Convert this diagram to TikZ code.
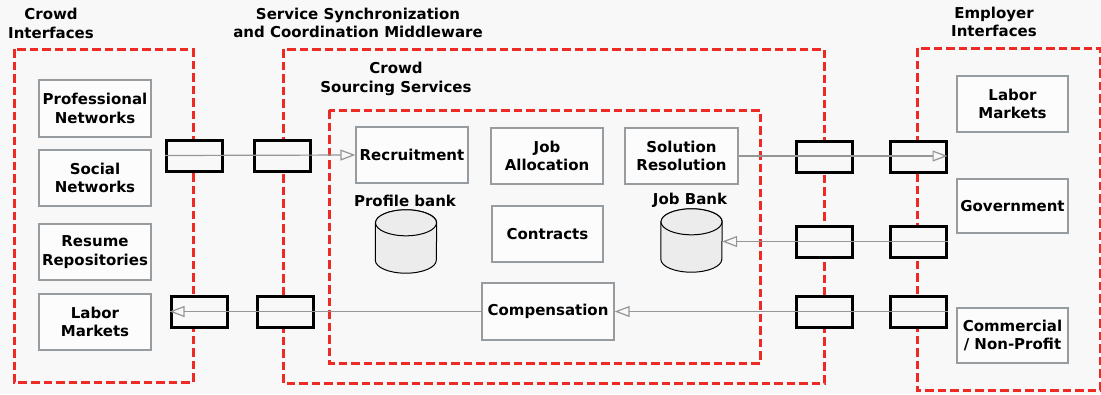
\documentclass[tikz,border=0pt]{standalone}
\usepackage{fontspec}
\setmainfont{DejaVu Sans}
\usetikzlibrary{arrows.meta}
\definecolor{bgcol}{RGB}{248,248,248}
\definecolor{zonered}{RGB}{238,42,36}
\definecolor{boxline}{RGB}{150,156,160}
\definecolor{wire}{RGB}{150,150,150}
\definecolor{dbfill}{RGB}{236,236,236}
\tikzset{
  lbl/.style={font=\bfseries\fontsize{15}{18.5}\selectfont, align=center, inner sep=0pt},
  zone/.style={draw=zonered, line width=3pt, dash pattern=on 8.5pt off 4pt},
  svc/.style={lbl, draw=boxline, line width=1.3pt, fill=white!60!bgcol, minimum height=56pt},
  port/.style={draw=black, line width=3pt, fill=bgcol, minimum width=56pt, minimum height=31pt, inner sep=0pt},
  flow/.style={draw=wire, line width=1.2pt, -{Triangle[open, length=15pt, width=11pt, line width=1.2pt]}},
  dbbody/.style={draw=black, line width=1pt, fill=dbfill},
}
% database drum: #1 name, #2 centre x, #3 centre y
\newcommand\drum[3]{%
  \node[minimum width=61pt, minimum height=63pt, inner sep=0pt] (#1) at (#2,#3) {};
  \path[dbbody] ([yshift=-13pt]#1.north west) -- ([yshift=13pt]#1.south west)
    arc[start angle=180, end angle=0, x radius=30.5, y radius=13]
    -- ([yshift=-13pt]#1.north east)
    arc[start angle=0, end angle=-180, x radius=30.5, y radius=13] -- cycle;
  \path[dbbody] ([yshift=-13pt]#1.north) ellipse[x radius=30.5, y radius=13];
}
\begin{document}
\begin{tikzpicture}[x=1pt, y=-1pt]
\fill[bgcol] (0,0) rectangle (1101,394);
\useasboundingbox (0,0) rectangle (1101,394);

% zones
\draw[zone] (14,49) rectangle (193,382);
\draw[zone] (283,49) rectangle (824,383);
\draw[zone] (329,110) rectangle (760,363);
\draw[zone] (917,48) rectangle (1100,390);

% zone titles
\node[lbl] (tci) at (51,23.5) {Crowd\\Interfaces};
\node[lbl] (tmw) at (358,23) {Service Synchronization\\and Coordination Middleware};
\node[lbl] (tcs) at (396,79) {Crowd\\Sourcing Services};
\node[lbl] (tei) at (994,22) {Employer\\Interfaces};

% crowd interfaces
\node[svc, minimum width=112pt, minimum height=57pt] (prof) at (95,108.5) {Professional\\Networks};
\node[svc, minimum width=112pt] (soc) at (95,178) {Social\\Networks};
\node[svc, minimum width=112pt] (res) at (95,252) {Resume\\Repositories};
\node[svc, minimum width=112pt] (labl) at (95,322) {Labor\\Markets};

% crowd sourcing services
\node[svc, minimum width=112pt] (rec) at (412,155) {Recruitment};
\node[svc, minimum width=112pt] (alloc) at (547,156) {Job\\Allocation};
\node[svc, minimum width=113pt] (sol) at (681.5,156) {Solution\\Resolution};
\node[svc, minimum width=111pt] (con) at (547.5,234) {Contracts};
\node[svc, minimum width=132pt, minimum height=57pt] (comp) at (548,311.5) {Compensation};

\node[lbl] (pbl) at (405,201) {Profile bank};
\node[lbl] (jbl) at (690,200) {Job Bank};
\drum{pbank}{406}{241.5}
\drum{jbank}{691.5}{240.5}

% employer interfaces
\node[svc, minimum width=111pt] (labr) at (1012.5,104) {Labor\\Markets};
\node[svc, minimum width=111pt, minimum height=54pt] (gov) at (1012.5,206) {Government};
\node[svc, minimum width=111pt, minimum height=55pt] (comm) at (1012.5,335.5) {Commercial\\/ Non-Profit};

% ports on zone borders
\node[port] (a1) at (194.5,155.5) {};
\node[port] (a2) at (282,155.5) {};
\node[port] (b1) at (199,311.5) {};
\node[port] (b2) at (285.5,311.5) {};
\node[port] (r1) at (824,156.5) {};
\node[port] (r2) at (918,156.5) {};
\node[port] (r3) at (824,241.5) {};
\node[port] (r4) at (918,241.5) {};
\node[port] (r5) at (824,311.5) {};
\node[port] (r6) at (918,311.5) {};

% flows
\draw[flow] (a1.west) -- (rec.west);
\draw[flow] (sol.east) -- (sol.east -| r2.east);
\draw[flow] (r4.east) -- (r4.east -| jbank.east);
\draw[flow] (r6.east) -- (r6.east -| comp.east);
\draw[flow] (comp.west) -- (comp.west -| b1.west);
\end{tikzpicture}
\end{document}
